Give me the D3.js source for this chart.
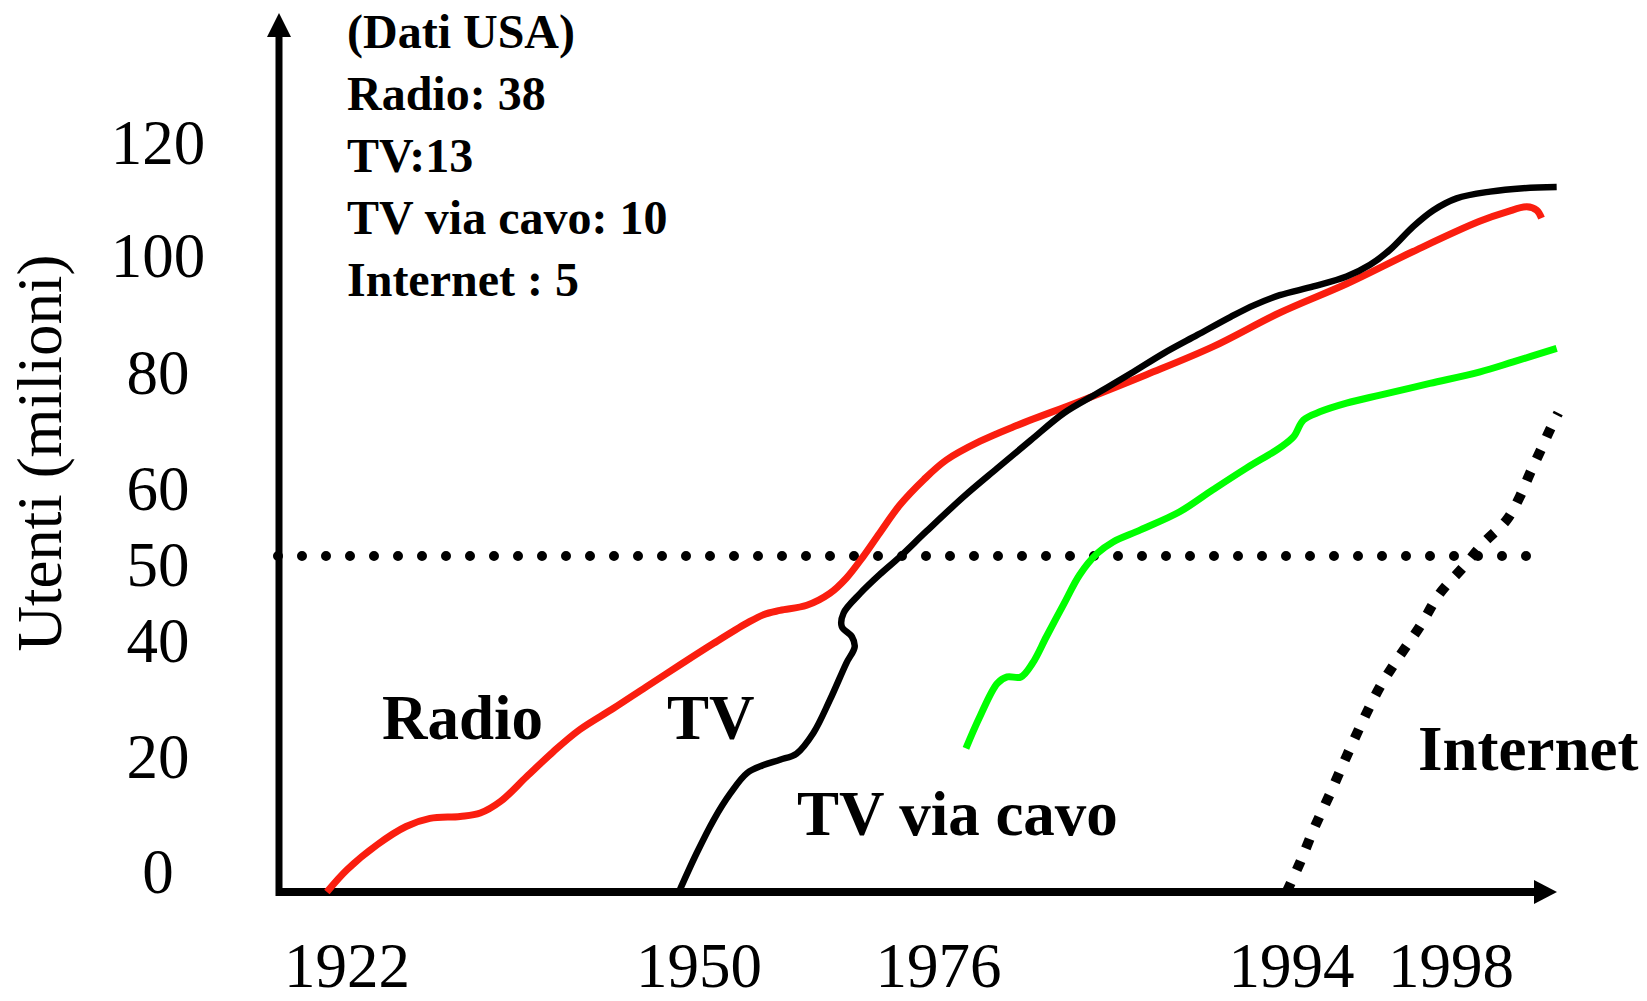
<!DOCTYPE html>
<html>
<head>
<meta charset="utf-8">
<script src="https://cdn.jsdelivr.net/npm/d3@7"></script>
<style>
  body { margin: 0; background: #fff; }
  text { font-family: "Liberation Serif", "Times New Roman", serif; fill: #000; }
</style>
</head>
<body>
<svg id="chart"></svg>
<script>
// data (years, millions of users)
var years = [1922, 1950, 1976, 1994, 1998];
var yTicks = [0, 20, 40, 50, 60, 80, 100, 120];
var notes = ['(Dati USA)', 'Radio: 38', 'TV:13', 'TV via cavo: 10', 'Internet : 5'];
var seriesNames = ['Radio', 'TV', 'TV via cavo', 'Internet'];

var radio = [[1920.4, 0], [1922.0, 3.3], [1924.4, 7.0], [1926.7, 9.7], [1928.6, 10.9], [1931.0, 11.2],
    [1932.6, 11.7], [1934.2, 13.4], [1936.3, 17.1], [1938.4, 20.9], [1940.5, 24.7], [1943.2, 28.4],
    [1945.8, 32.1], [1948.5, 35.9], [1951.6, 39.6], [1955.2, 42.1], [1957.0, 43.1], [1958.8, 43.6],
    [1961.7, 44.2], [1964.2, 45.6], [1966.0, 47.4], [1967.8, 49.9], [1969.6, 53.4], [1971.8, 57.6],
    [1974.4, 61.6], [1976.4, 65.0], [1978.1, 68.2], [1979.8, 70.7], [1983.2, 75.1], [1986.6, 79.7],
    [1990.0, 84.5], [1993.4, 90.3], [1995.4, 95.3], [1997.05, 100.8], [1998.7, 106.1], [1999.4, 107.8],
    [1999.9, 108.7], [2000.15, 108.1], [2000.27, 106.7]];

var tv = [[1948.4, 0], [1949.8, 5.7], [1951.6, 10.7], [1953.4, 14.6], [1955.2, 17.6], [1957.0, 18.8],
    [1958.8, 19.6], [1960.6, 20.6], [1962.4, 24.1], [1964.2, 29.8], [1966.0, 36.2], [1966.9, 39.0],
    [1966.6, 40.5], [1965.5, 41.7], [1965.7, 43.3], [1967.5, 45.6], [1969.6, 47.8], [1971.8, 49.9],
    [1974.7, 53.7], [1977.3, 58.9], [1979.0, 63.6], [1980.7, 68.4], [1982.4, 73.1], [1984.1, 76.5],
    [1985.8, 79.9], [1987.5, 83.4], [1989.2, 86.5], [1990.9, 89.6], [1992.1, 91.6], [1993.4, 93.3],
    [1994.55, 94.8], [1995.38, 96.5], [1995.97, 98.5], [1996.47, 101.1], [1997.05, 105.2],
    [1997.56, 108.1], [1998.14, 110.2], [1998.98, 111.4], [1999.81, 112.0], [2000.65, 112.2]];

var cable = [[1977.4, 21.5], [1978.1, 26.9], [1979.0, 32.7], [1979.5, 33.8], [1980.2, 33.8], [1980.8, 36.2],
    [1981.5, 40.5], [1982.4, 44.4], [1983.2, 47.8], [1984.1, 50.4], [1984.9, 52.1], [1986.3, 53.9],
    [1988.3, 56.6], [1990.0, 59.9], [1991.7, 63.6], [1993.4, 67.1], [1994.05, 69.0], [1994.3, 71.9],
    [1994.71, 73.3], [1995.38, 74.8], [1996.22, 76.2], [1997.47, 78.2], [1998.73, 80.2], [1999.56, 81.9],
    [2000.65, 84.2]];

var internet = [[1993.75, 0], [1994.21, 4.3], [1994.55, 9.2], [1994.97, 14.6], [1995.38, 20.1], [1995.8, 26.4],
    [1996.22, 32.1], [1996.64, 36.7], [1997.22, 41.7], [1997.72, 45.6], [1998.31, 48.7], [1998.81, 51.9],
    [1999.4, 55.4], [1999.73, 58.9], [1999.98, 62.7], [2000.23, 66.4], [2000.48, 70.2], [2000.69, 73.1]];

var threshold = 50;

// layout
var svgWidth = 1647, svgHeight = 1001;
var originX = 279, originY = 892, axisTop = 13, axisRight = 1557;
// the hand drawn axes are not evenly spaced, so the scales are piecewise
var xStops = [347, 699, 938.5, 1291.5, 1451];
var yStops = [892, 757, 641, 556, 489, 373, 256, 143];
var yLabelNudge = {0: -20, 50: 8.5};
var seriesStyle = [
    {data: radio, color: '#fa1e0f', width: 7, dash: null},
    {data: tv, color: '#000', width: 6.5, dash: null},
    {data: cable, color: '#00ff00', width: 7, dash: null},
    {data: internet, color: '#000', width: 10, dash: '10 14'}
];
var labelPos = [[382, 739], [667, 739], [797, 835], [1418, 770]];

var xScale = d3.scaleLinear().domain(years).range(xStops);
var yScale = d3.scaleLinear().domain(yTicks).range(yStops);

var svg = d3.select('#chart')
    .attr('width', svgWidth)
    .attr('height', svgHeight);

//dotted line at 50 milioni
svg.append('line')
    .attr('x1', originX - 1)
    .attr('x2', 1527)
    .attr('y1', yScale(threshold))
    .attr('y2', yScale(threshold))
    .style('stroke', '#000')
    .style('stroke-width', 10)
    .style('stroke-linecap', 'round')
    .style('stroke-dasharray', '0 24');

//axes with arrows
svg.append('line')
    .attr('x1', originX).attr('y1', originY + 4)
    .attr('x2', originX).attr('y2', axisTop + 20)
    .style('stroke', '#000').style('stroke-width', 7);
svg.append('path')
    .attr('d', 'M' + originX + ',' + axisTop + 'L' + (originX - 12) + ',' + (axisTop + 24) + 'L' + (originX + 12) + ',' + (axisTop + 24) + 'Z')
    .style('fill', '#000');

svg.append('line')
    .attr('x1', originX - 3).attr('y1', originY)
    .attr('x2', axisRight - 20).attr('y2', originY)
    .style('stroke', '#000').style('stroke-width', 8);
svg.append('path')
    .attr('d', 'M' + axisRight + ',' + originY + 'L' + (axisRight - 23) + ',' + (originY - 12) + 'L' + (axisRight - 23) + ',' + (originY + 12) + 'Z')
    .style('fill', '#000');

//curves
var line = d3.line()
    .x(function (d) { return xScale(d[0]); })
    .y(function (d) { return yScale(d[1]); })
    .curve(d3.curveCatmullRom.alpha(0.5));

svg.selectAll('.serie')
    .data(seriesStyle)
    .enter()
    .append('path')
    .attr('class', 'serie')
    .attr('d', function (s) { return line(s.data); })
    .style('fill', 'none')
    .style('stroke', function (s) { return s.color; })
    .style('stroke-width', function (s) { return s.width; })
    .style('stroke-dasharray', function (s) { return s.dash; });

//tick labels
svg.selectAll('.ytick')
    .data(yTicks)
    .enter()
    .append('text')
    .attr('class', 'ytick')
    .attr('x', 158)
    .attr('y', function (d) { return yScale(d) + (yLabelNudge[d] || 0); })
    .attr('dy', '0.34em')
    .attr('text-anchor', 'middle')
    .style('font-size', '63px')
    .text(function (d) { return d; });

svg.selectAll('.xtick')
    .data(years)
    .enter()
    .append('text')
    .attr('class', 'xtick')
    .attr('x', function (d) { return xScale(d); })
    .attr('y', 987)
    .attr('text-anchor', 'middle')
    .style('font-size', '63px')
    .text(function (d) { return d; });

//axis title
svg.append('text')
    .attr('transform', 'translate(61,453) rotate(-90)')
    .attr('text-anchor', 'middle')
    .style('font-size', '63px')
    .text('Utenti (milioni)');

//notes block
svg.selectAll('.note')
    .data(notes)
    .enter()
    .append('text')
    .attr('class', 'note')
    .attr('x', 347)
    .attr('y', function (d, i) { return 48 + i * 62; })
    .style('font-size', '48px')
    .style('font-weight', 'bold')
    .text(function (d) { return d; });

//series labels
svg.selectAll('.slabel')
    .data(seriesNames)
    .enter()
    .append('text')
    .attr('class', 'slabel')
    .attr('x', function (d, i) { return labelPos[i][0]; })
    .attr('y', function (d, i) { return labelPos[i][1]; })
    .style('font-size', '63px')
    .style('font-weight', 'bold')
    .text(function (d) { return d; });
</script>
</body>
</html>
